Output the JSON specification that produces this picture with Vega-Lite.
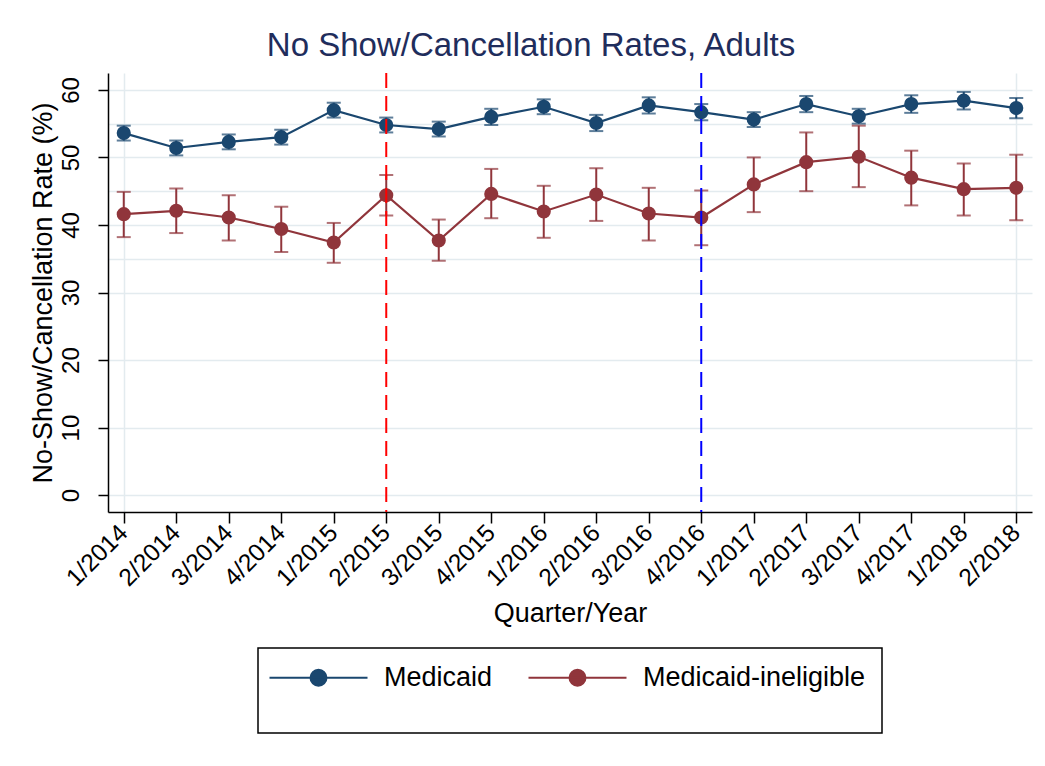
{
  "$schema": "https://vega.github.io/schema/vega-lite/v6.json",
  "width": 924,
  "height": 439,
  "autosize": "none",
  "padding": {"left": 108, "top": 73, "right": 13, "bottom": 254},
  "background": "white",
  "title": {"text": "No Show/Cancellation Rates, Adults", "fontSize": 33, "font": "Liberation Sans", "fontWeight": "normal", "color": "#1f2d5c", "anchor": "middle", "dx": -39, "offset": 9},
  "data": {"values": [
    {"q": "1/2014", "g": "Medicaid", "rate": 53.6, "lo": 52.5, "hi": 54.7},
    {"q": "2/2014", "g": "Medicaid", "rate": 51.4, "lo": 50.3, "hi": 52.5},
    {"q": "3/2014", "g": "Medicaid", "rate": 52.3, "lo": 51.2, "hi": 53.4},
    {"q": "4/2014", "g": "Medicaid", "rate": 53.0, "lo": 51.9, "hi": 54.1},
    {"q": "1/2015", "g": "Medicaid", "rate": 57.0, "lo": 55.9, "hi": 58.1},
    {"q": "2/2015", "g": "Medicaid", "rate": 54.8, "lo": 53.7, "hi": 55.9},
    {"q": "3/2015", "g": "Medicaid", "rate": 54.2, "lo": 53.1, "hi": 55.3},
    {"q": "4/2015", "g": "Medicaid", "rate": 56.0, "lo": 54.8, "hi": 57.2},
    {"q": "1/2016", "g": "Medicaid", "rate": 57.5, "lo": 56.4, "hi": 58.6},
    {"q": "2/2016", "g": "Medicaid", "rate": 55.1, "lo": 53.9, "hi": 56.3},
    {"q": "3/2016", "g": "Medicaid", "rate": 57.7, "lo": 56.5, "hi": 58.9},
    {"q": "4/2016", "g": "Medicaid", "rate": 56.7, "lo": 55.5, "hi": 57.9},
    {"q": "1/2017", "g": "Medicaid", "rate": 55.6, "lo": 54.5, "hi": 56.7},
    {"q": "2/2017", "g": "Medicaid", "rate": 57.9, "lo": 56.7, "hi": 59.1},
    {"q": "3/2017", "g": "Medicaid", "rate": 56.1, "lo": 55.0, "hi": 57.2},
    {"q": "4/2017", "g": "Medicaid", "rate": 57.9, "lo": 56.6, "hi": 59.2},
    {"q": "1/2018", "g": "Medicaid", "rate": 58.4, "lo": 57.1, "hi": 59.7},
    {"q": "2/2018", "g": "Medicaid", "rate": 57.3, "lo": 55.8, "hi": 58.8},
    {"q": "1/2014", "g": "Medicaid-ineligible", "rate": 41.6, "lo": 38.2, "hi": 44.9},
    {"q": "2/2014", "g": "Medicaid-ineligible", "rate": 42.1, "lo": 38.8, "hi": 45.4},
    {"q": "3/2014", "g": "Medicaid-ineligible", "rate": 41.1, "lo": 37.7, "hi": 44.4},
    {"q": "4/2014", "g": "Medicaid-ineligible", "rate": 39.4, "lo": 36.0, "hi": 42.7},
    {"q": "1/2015", "g": "Medicaid-ineligible", "rate": 37.4, "lo": 34.4, "hi": 40.3},
    {"q": "2/2015", "g": "Medicaid-ineligible", "rate": 44.4, "lo": 41.4, "hi": 47.4},
    {"q": "3/2015", "g": "Medicaid-ineligible", "rate": 37.7, "lo": 34.7, "hi": 40.8},
    {"q": "4/2015", "g": "Medicaid-ineligible", "rate": 44.6, "lo": 41.0, "hi": 48.3},
    {"q": "1/2016", "g": "Medicaid-ineligible", "rate": 42.0, "lo": 38.1, "hi": 45.8},
    {"q": "2/2016", "g": "Medicaid-ineligible", "rate": 44.5, "lo": 40.6, "hi": 48.4},
    {"q": "3/2016", "g": "Medicaid-ineligible", "rate": 41.7, "lo": 37.7, "hi": 45.5},
    {"q": "4/2016", "g": "Medicaid-ineligible", "rate": 41.1, "lo": 37.0, "hi": 45.1},
    {"q": "1/2017", "g": "Medicaid-ineligible", "rate": 46.0, "lo": 41.9, "hi": 50.0},
    {"q": "2/2017", "g": "Medicaid-ineligible", "rate": 49.3, "lo": 45.0, "hi": 53.7},
    {"q": "3/2017", "g": "Medicaid-ineligible", "rate": 50.1, "lo": 45.6, "hi": 54.7},
    {"q": "4/2017", "g": "Medicaid-ineligible", "rate": 47.0, "lo": 42.9, "hi": 51.0},
    {"q": "1/2018", "g": "Medicaid-ineligible", "rate": 45.3, "lo": 41.4, "hi": 49.1},
    {"q": "2/2018", "g": "Medicaid-ineligible", "rate": 45.5, "lo": 40.7, "hi": 50.4}
  ]},
  "encoding": {
    "x": {
      "field": "q", "type": "ordinal",
      "scale": {"type": "point", "padding": 0.3, "domain": ["1/2014","2/2014","3/2014","4/2014","1/2015","2/2015","3/2015","4/2015","1/2016","2/2016","3/2016","4/2016","1/2017","2/2017","3/2017","4/2017","1/2018","2/2018"]},
      "axis": {
        "title": "Quarter/Year", "titleFontSize": 27, "titlePadding": 10,
        "labelAngle": -45, "labelAlign": "right", "labelBaseline": "middle", "labelFontSize": 24.5, "labelPadding": 6,
        "tickSize": 11, "labelOverlap": false, "labelFlush": false,
        "grid": true,
        "gridOpacity": {"condition": {"test": "datum.value === '1/2014' || datum.value === '2/2018'", "value": 1}, "value": 0}
      }
    }
  },
  "layer": [
    {
      "mark": {"type": "rule", "strokeWidth": 2},
      "encoding": {
        "y": {"field": "lo", "type": "quantitative", "scale": {"domain": [-2.5, 62.5], "nice": false, "zero": false},
          "axis": {"title": "No-Show/Cancellation Rate (%)", "values": [0,10,20,30,35,40,45,50,55,60], "labelExpr": "datum.value % 10 === 0 ? datum.label : ''", "tickOpacity": {"condition": {"test": "datum.value % 10 === 0", "value": 1}, "value": 0}}},
        "y2": {"field": "hi"},
        "color": {"field": "g", "type": "nominal", "scale": {"domain": ["Medicaid", "Medicaid-ineligible"], "range": ["#1a476f", "#90353b"]},
          "legend": {"orient": "none", "legendX": 150, "legendY": 575, "direction": "horizontal", "title": " ", "titleOrient": "bottom", "titleFontSize": 20, "titlePadding": 6, "strokeColor": "black", "padding": 16, "symbolType": "M-1.8,0H8.0M3.9,0A0.8,0.8,0,1,1,2.3,0A0.8,0.8,0,1,1,3.9,0Z", "symbolSize": 400, "symbolStrokeWidth": 2, "labelFontSize": 27, "labelOffset": 83, "labelLimit": 400, "columnPadding": 31,
            "encode": {"symbols": {"update": {"stroke": {"scale": "color", "field": "value"}, "fill": {"scale": "color", "field": "value"}, "strokeWidth": {"value": 2}}}}}}
      }
    },
    {
      "mark": {"type": "tick", "thickness": 2, "size": 14},
      "encoding": {
        "y": {"field": "lo", "type": "quantitative", "title": "No-Show/Cancellation Rate (%)"},
        "color": {"field": "g", "type": "nominal"}
      }
    },
    {
      "mark": {"type": "tick", "thickness": 2, "size": 14},
      "encoding": {
        "y": {"field": "hi", "type": "quantitative", "title": "No-Show/Cancellation Rate (%)"},
        "color": {"field": "g", "type": "nominal"}
      }
    },
    {
      "mark": {"type": "line", "strokeWidth": 2.2},
      "encoding": {
        "y": {"field": "rate", "type": "quantitative", "title": "No-Show/Cancellation Rate (%)"},
        "color": {"field": "g", "type": "nominal"}
      }
    },
    {
      "mark": {"type": "point", "filled": true, "size": 200, "opacity": 1, "shape": "circle"},
      "encoding": {
        "y": {"field": "rate", "type": "quantitative", "title": "No-Show/Cancellation Rate (%)"},
        "color": {"field": "g", "type": "nominal"}
      }
    },
    {
      "data": {"values": [{"q": "2/2015"}]},
      "mark": {"type": "rule", "color": "#ff0000", "strokeWidth": 2, "strokeDash": [15, 8]},
      "encoding": {}
    },
    {
      "data": {"values": [{"q": "4/2016"}]},
      "mark": {"type": "rule", "color": "#0000ff", "strokeWidth": 2, "strokeDash": [15, 8]},
      "encoding": {}
    }
  ],
  "config": {
    "view": {"stroke": null},
    "font": "Liberation Sans",
    "axis": {"labelFont": "Liberation Sans", "titleFont": "Liberation Sans", "labelColor": "black", "titleColor": "black", "titleFontWeight": "normal", "domainColor": "black", "domainWidth": 1.5, "tickColor": "black", "tickWidth": 1.5, "gridColor": "#e3ebef", "gridWidth": 1.5},
    "axisY": {"labelAngle": -90, "labelAlign": "center", "labelBaseline": "bottom", "labelFontSize": 24, "tickSize": 10, "labelPadding": 15, "titleFontSize": 27, "titlePadding": 2, "grid": true},
    "legend": {"labelFont": "Liberation Sans", "labelColor": "black", "strokeWidth": 1.5}
  }
}
